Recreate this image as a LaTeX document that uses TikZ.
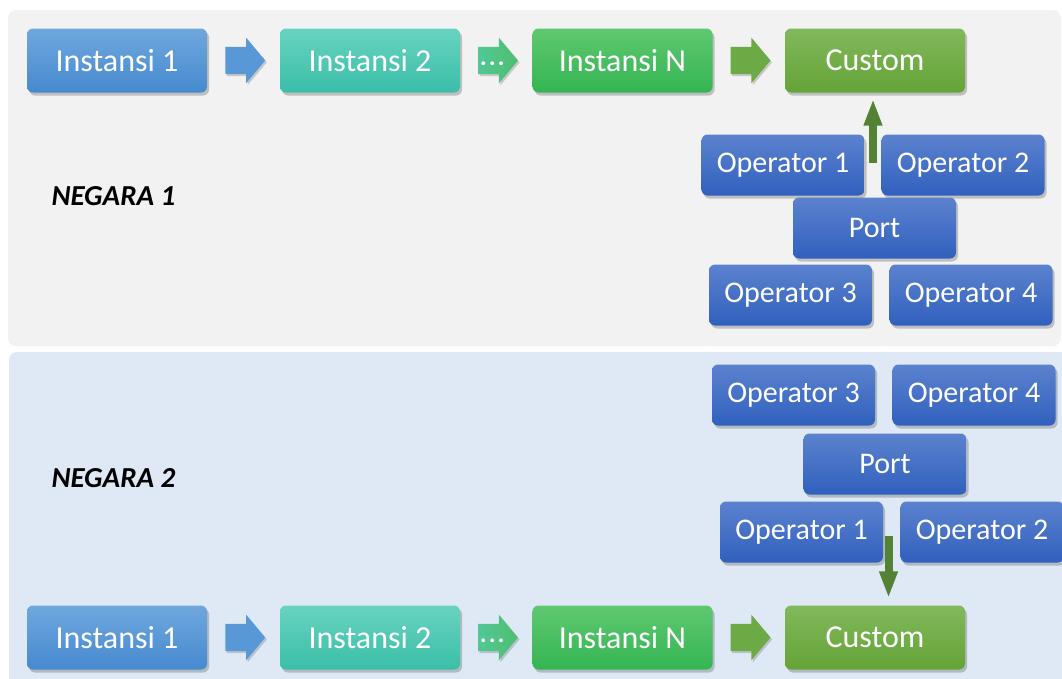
\documentclass[tikz,border=0pt]{standalone}
\usepackage{fontspec}
\setmainfont{Carlito}
\usetikzlibrary{shapes.arrows,shadows,arrows.meta,calc}

% fills of the boxes, top and bottom of each gradient
\definecolor{topA}{RGB}{111,167,222}
\definecolor{botA}{RGB}{70,138,207}
\definecolor{topB}{RGB}{104,211,192}
\definecolor{botB}{RGB}{58,190,168}
\definecolor{topC}{RGB}{95,200,112}
\definecolor{botC}{RGB}{52,181,82}
\definecolor{topD}{RGB}{130,185,92}
\definecolor{botD}{RGB}{100,163,55}
\definecolor{topOp}{RGB}{92,130,206}
\definecolor{botOp}{RGB}{48,96,190}
\definecolor{arrowA}{RGB}{88,152,214}
\definecolor{arrowB}{RGB}{80,200,150}
\definecolor{arrowC}{RGB}{80,190,110}
\definecolor{arrowD}{RGB}{107,170,68}
\definecolor{liftgreen}{RGB}{84,130,53}
\definecolor{panelgray}{RGB}{242,242,242}
\definecolor{panelblue}{RGB}{222,233,245}

\tikzset{
  box/.style={rounded corners=6pt, minimum width=180pt, minimum height=64pt,
    inner sep=0pt, text=white, font=\fontsize{32}{32}\selectfont,
    drop shadow={shadow xshift=2pt, shadow yshift=-3pt, opacity=.3, fill=black!70}},
  opbox/.style={box, minimum width=163pt, minimum height=61pt,
    font=\fontsize{30}{30}\selectfont, top color=topOp, bottom color=botOp},
  blockarrow/.style={single arrow, minimum height=40pt, minimum width=45pt,
    single arrow head extend=9pt, single arrow tip angle=100,
    inner xsep=0pt, inner ysep=13.5pt, text height=0pt, text depth=0pt,
    text=white, font=\bfseries\fontsize{26}{26}\selectfont, xshift=-4pt,
    drop shadow={shadow xshift=1.5pt, shadow yshift=-2pt, opacity=.25, fill=black!70}},
  lift/.style={line width=8pt, draw=liftgreen, -{Triangle[length=27pt,width=17pt]}},
  country/.style={anchor=west, font=\bfseries\itshape\fontsize{29}{29}\selectfont}
}

% one row of instances, ending in the custom box
\newcommand{\drawrow}[2]{
  \foreach \x/\name/\txt/\col in {117/i1/Instansi 1/A, 370/i2/Instansi 2/B,
                                  622.5/iN/Instansi N/C, 875/cu/Custom/D}
    \node[box, top color=top\col, bottom color=bot\col] (#2\name) at (\x, #1) {\txt};
  \node[blockarrow, fill=arrowA] (#2a1) at ($(#2i1.east)!.5!(#2i2.west)$) {};
  \node[blockarrow, left color=arrowB, right color=arrowC, shading angle=90]
    (#2a2) at ($(#2i2.east)!.5!(#2iN.west)$) {\raisebox{-5pt}{.\kern2pt.\kern2pt.}};
  \node[blockarrow, fill=arrowD] (#2a3) at ($(#2iN.east)!.5!(#2cu.west)$) {};
}

\begin{document}
\begin{tikzpicture}[x=1pt, y=-1pt]
  \useasboundingbox (0, 0) rectangle (1062, 678);
  \fill[panelgray, rounded corners=8pt] (8, 10) rectangle (1061, 346);
  \fill[panelblue, rounded corners=8pt] (9, 352) rectangle (1080, 700);

  % country 1
  \node[country] (neg1) at (48, 196) {NEGARA 1};
  \drawrow{60.5}{a}
  \foreach \name/\txt/\x/\y in {o1/Operator 1/783/165, o2/Operator 2/963/165,
      pt/Port/874.5/228, o3/Operator 3/790.5/295, o4/Operator 4/971/295}
    \node[opbox] (a\name) at (\x, \y) {\txt};
  \coordinate (aup) at (873, 163);
  \draw[lift, shorten >=6pt] (aup) -- (aup |- acu.south);

  % country 2
  \node[country] (neg2) at (48, 478) {NEGARA 2};
  \drawrow{637.5}{b}
  \foreach \name/\txt/\x/\y in {o3/Operator 3/793.5/395, o4/Operator 4/974/395,
      pt/Port/885/464, o1/Operator 1/801.5/532, o2/Operator 2/982/532}
    \node[opbox] (b\name) at (\x, \y) {\txt};
  \coordinate (bdown) at (888.5, 536);
  \draw[lift, shorten >=7pt] (bdown) -- (bdown |- bcu.north);
\end{tikzpicture}
\end{document}
